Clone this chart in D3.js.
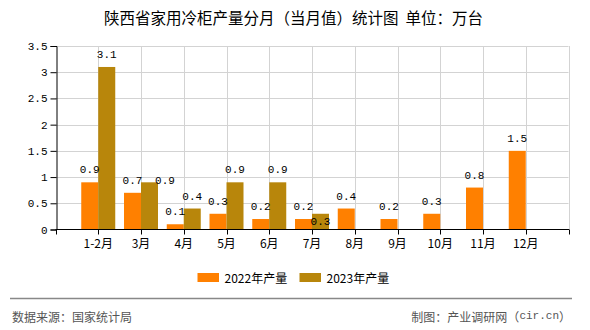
<!DOCTYPE html>
<html>
<head>
<meta charset="utf-8">
<script src="https://cdn.jsdelivr.net/npm/d3@7/dist/d3.min.js"></script>
<style>
  html, body { margin: 0; padding: 0; background: #fff; }
  svg { display: block; }
</style>
</head>
<body>
<svg id="chart" width="590" height="330"></svg>
<script>
// ---- data ----
const categories = ["1-2月", "3月", "4月", "5月", "6月", "7月", "8月", "9月", "10月", "11月", "12月"];
const values2022 = [0.9, 0.7, 0.1, 0.3, 0.2, 0.2, 0.4, 0.2, 0.3, 0.8, 1.5];
const values2023 = [3.1, 0.9, 0.4, 0.9, 0.9, 0.3, null, null, null, null, null];
const seriesNames = ["2022年产量", "2023年产量"];
const yTicks = [0, 0.5, 1, 1.5, 2, 2.5, 3, 3.5];
const titleText = "陕西省家用冷柜产量分月（当月值）统计图 单位：万台";
const sourceText = "数据来源：国家统计局";
const creditParts = ["制图：产业调研网（", "cir.cn", "）"];

(function () {
// ---- layout / style ----
const colors = ["#FF8000", "#B8860B"];
const cjk = "'Noto Sans CJK SC', 'Noto Sans', sans-serif";
const mono = "'Liberation Mono', 'DejaVu Sans Mono', monospace";
const pL = 55.5, pR = 568.5, pT = 46, pB = 229.5;
const barW = 17;

const svg = d3.select("#chart");

const x = d3.scalePoint().domain(categories).range([pL, pR]).padding(1);
const y = d3.scaleLinear().domain([0, 3.5]).range([pB, pT]);

// grid
const grid = svg.append("g");
grid.selectAll("line.h").data(yTicks.filter(t => t > 0)).join("line")
  .attr("x1", pL).attr("x2", pR)
  .attr("y1", d => Math.round(y(d)) + 0.5).attr("y2", d => Math.round(y(d)) + 0.5)
  .attr("stroke", "#d3d3d3").attr("stroke-width", 1);
grid.selectAll("line.v").data(categories.map(c => x(c)).concat([pR])).join("line")
  .attr("x1", d => Math.round(d) + 0.5).attr("x2", d => Math.round(d) + 0.5)
  .attr("y1", pT).attr("y2", pB)
  .attr("stroke", "#d3d3d3").attr("stroke-width", 1);

// bars
const series = [values2022, values2023];
series.forEach((vals, si) => {
  const g = svg.append("g");
  const data = categories.map((c, i) => ({ c, v: vals[i] })).filter(d => d.v != null);
  g.selectAll("rect").data(data).join("rect")
    .attr("x", d => si === 0 ? x(d.c) - barW : x(d.c))
    .attr("y", d => y(d.v))
    .attr("width", barW)
    .attr("height", d => y(0) - y(d.v))
    .attr("fill", colors[si]);
});

// axes
const yAxis = d3.axisLeft(y).tickValues(yTicks).tickSize(6).tickPadding(3)
  .tickFormat(d => String(d));
const ya = svg.append("g").attr("transform", `translate(${Math.round(pL) + 0.5},0)`).call(yAxis);
ya.select(".domain").attr("stroke", "#000");
ya.selectAll(".tick line").attr("stroke", "#000");
ya.selectAll(".tick text").attr("font-family", mono).attr("font-size", 11).attr("fill", "#000");

const xa = svg.append("g").attr("transform", `translate(0,${Math.round(pB) - 0.5})`);
xa.append("line").attr("x1", pL).attr("x2", pR + 0.5).attr("y1", 0).attr("y2", 0)
  .attr("stroke", "#000").attr("stroke-width", 1);
xa.selectAll("line.t").data([pL].concat(categories.map(c => x(c))).concat([pR])).join("line")
  .attr("x1", d => Math.round(d) + 0.5).attr("x2", d => Math.round(d) + 0.5)
  .attr("y1", 0).attr("y2", 5).attr("stroke", "#000");
xa.selectAll("text").data(categories).join("text")
  .attr("x", d => x(d)).attr("y", 13)
  .attr("text-anchor", "middle").attr("dominant-baseline", "central")
  .attr("font-family", cjk).attr("font-size", 12).attr("fill", "#000")
  .text(d => d);

// value labels (with nudges where the original chart moved overlapping labels)
const labelNudge = { "1|1": [15.5, 10.5], "1|5": [0, 20.5] };
series.forEach((vals, si) => {
  const data = categories.map((c, i) => ({ c, i, v: vals[i] })).filter(d => d.v != null);
  svg.append("g").selectAll("text").data(data).join("text")
    .attr("x", d => (si === 0 ? x(d.c) - barW / 2 : x(d.c) + barW / 2) + ((labelNudge[si + "|" + d.i] || [0, 0])[0]))
    .attr("y", d => y(d.v) - 12 + ((labelNudge[si + "|" + d.i] || [0, 0])[1]))
    .attr("text-anchor", "middle").attr("dominant-baseline", "central")
    .attr("font-family", mono).attr("font-size", 11).attr("fill", "#000")
    .text(d => d3.format(".1f")(d.v));
});

// title
svg.append("text").attr("x", 293.5).attr("y", 17)
  .attr("text-anchor", "middle").attr("dominant-baseline", "central")
  .attr("font-family", cjk).attr("font-size", 15.5).attr("fill", "#000")
  .attr("xml:space", "preserve")
  .text(titleText.replace(" ", "  "));

// legend
const legendX = [197.5, 299.5];
seriesNames.forEach((n, i) => {
  svg.append("rect").attr("x", legendX[i]).attr("y", 273).attr("width", 21.5).attr("height", 9)
    .attr("fill", colors[i]);
  svg.append("text").attr("x", legendX[i] + 27).attr("y", 277.5)
    .attr("dominant-baseline", "central")
    .attr("font-family", cjk).attr("font-size", 12).attr("fill", "#000")
    .text(n);
});

// footer
svg.append("line").attr("x1", 10).attr("x2", 572).attr("y1", 298.5).attr("y2", 298.5)
  .attr("stroke", "#888").attr("stroke-width", 1.5);
svg.append("text").attr("x", 12).attr("y", 316)
  .attr("dominant-baseline", "central")
  .attr("font-family", cjk).attr("font-size", 12).attr("fill", "#555")
  .text(sourceText);
const credit = svg.append("text").attr("x", 571).attr("y", 316)
  .attr("text-anchor", "end").attr("dominant-baseline", "central")
  .attr("font-family", cjk).attr("font-size", 12).attr("fill", "#555");
credit.append("tspan").text(creditParts[0]);
credit.append("tspan").attr("font-family", mono).attr("font-size", 11).text(creditParts[1]);
credit.append("tspan").text(creditParts[2]);
})();
</script>
</body>
</html>
